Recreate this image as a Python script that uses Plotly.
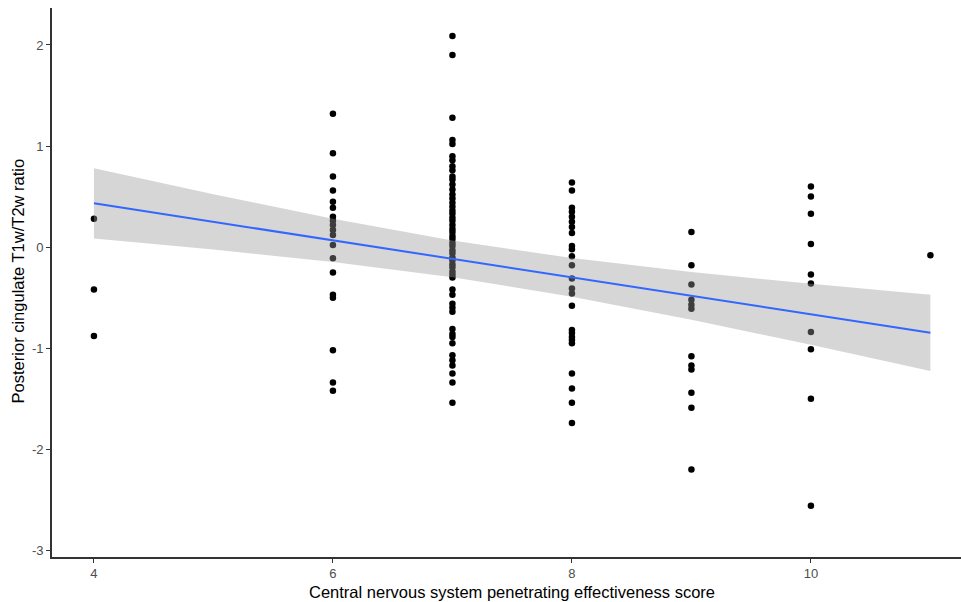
import plotly.graph_objects as go

# CNS penetrating effectiveness score groups and T1w/T2w ratio values
score_4 = [0.28, -0.42, -0.88]
score_6 = [1.32, 0.93, 0.70, 0.56, 0.45, 0.39, 0.30, 0.26, 0.22, 0.17, 0.12, 0.02,
           -0.11, -0.25, -0.47, -0.50, -1.02, -1.34, -1.42]
score_7 = [2.09, 1.90, 1.28, 1.06, 1.02, 0.90, 0.86, 0.80, 0.76, 0.70, 0.67, 0.62,
           0.57, 0.52, 0.48, 0.44, 0.40, 0.36, 0.33, 0.29, 0.26, 0.22, 0.18, 0.15,
           0.11, 0.08, 0.04, 0.01, -0.03, -0.06, -0.10, -0.13, -0.17, -0.20, -0.24,
           -0.27, -0.30, -0.42, -0.47, -0.56, -0.60, -0.64, -0.81, -0.86, -0.89,
           -0.95, -1.07, -1.12, -1.17, -1.25, -1.34, -1.54]
score_8 = [0.64, 0.56, 0.39, 0.35, 0.30, 0.25, 0.20, 0.14, 0.01, -0.02, -0.09,
           -0.18, -0.31, -0.41, -0.46, -0.58, -0.82, -0.85, -0.89, -0.92, -0.95,
           -1.25, -1.40, -1.54, -1.74]
score_9 = [0.15, -0.18, -0.37, -0.52, -0.57, -0.61, -1.08, -1.17, -1.21, -1.44,
           -1.59, -2.20]
score_10 = [0.60, 0.50, 0.33, 0.03, -0.27, -0.36, -0.84, -1.01, -1.50, -2.56]
score_11 = [-0.08]

# linear fit with 95% CI
fit_x = [4, 5, 6, 7, 8, 9, 10, 11]
fit_y = [0.433, 0.250, 0.067, -0.116, -0.299, -0.482, -0.665, -0.848]
fit_lo = [0.086, -0.024, -0.148, -0.298, -0.490, -0.718, -0.967, -1.226]
fit_hi = [0.780, 0.524, 0.282, 0.066, -0.108, -0.246, -0.363, -0.470]

x_ticks = [4, 6, 8, 10]
x_labels = ["4", "6", "8", "10"]
y_ticks = [-3, -2, -1, 0, 1, 2]
y_labels = ["-3", "-2", "-1", "0", "1", "2"]

groups = [(4, score_4), (6, score_6), (7, score_7), (8, score_8),
          (9, score_9), (10, score_10), (11, score_11)]
px, py = [], []
for s, vals in groups:
    px += [s] * len(vals)
    py += vals

fig = go.Figure()
fig.add_trace(go.Scatter(x=px, y=py, mode="markers",
                         marker=dict(color="black", size=6.5, line=dict(width=0)),
                         showlegend=False, hoverinfo="x+y"))
fig.add_trace(go.Scatter(x=fit_x + fit_x[::-1], y=fit_hi + fit_lo[::-1],
                         fill="toself", fillcolor="rgba(153,153,153,0.4)",
                         line=dict(width=0), mode="lines", showlegend=False,
                         hoverinfo="skip"))
fig.add_trace(go.Scatter(x=fit_x, y=fit_y, mode="lines",
                         line=dict(color="#3366FF", width=2), showlegend=False))

axis_common = dict(showgrid=False, zeroline=False, showline=True, automargin=False,
                   linecolor="#333333", linewidth=1.6, ticks="outside",
                   ticklen=4, tickcolor="#333333", tickwidth=1.2,
                   tickfont=dict(family="Liberation Sans, Arial", size=13, color="#4D4D4D"))

fig.update_xaxes(range=[3.649, 11.256], tickvals=x_ticks, ticktext=x_labels, **axis_common)
fig.update_yaxes(range=[-3.066, 2.366], tickvals=y_ticks, ticktext=y_labels, **axis_common)

fig.add_annotation(text="Central nervous system penetrating effectiveness score",
                   xref="paper", yref="paper", x=0.506, y=0, yshift=-35,
                   showarrow=False, xanchor="center", yanchor="middle",
                   font=dict(family="Liberation Sans, Arial", size=16.5, color="black"))
fig.add_annotation(text="Posterior cingulate T1w/T2w ratio",
                   xref="paper", yref="paper", x=0, y=0.502, xshift=-34,
                   showarrow=False, textangle=-90, xanchor="center", yanchor="middle",
                   font=dict(family="Liberation Sans, Arial", size=16.5, color="black"))

fig.update_layout(width=961, height=602, plot_bgcolor="white", paper_bgcolor="white",
                  margin=dict(l=52, r=0, t=8, b=45, autoexpand=False), showlegend=False)

fig.write_html("out.html", config={"displayModeBar": False},
               post_script="document.body.style.margin='0';document.body.style.overflow='hidden';")
